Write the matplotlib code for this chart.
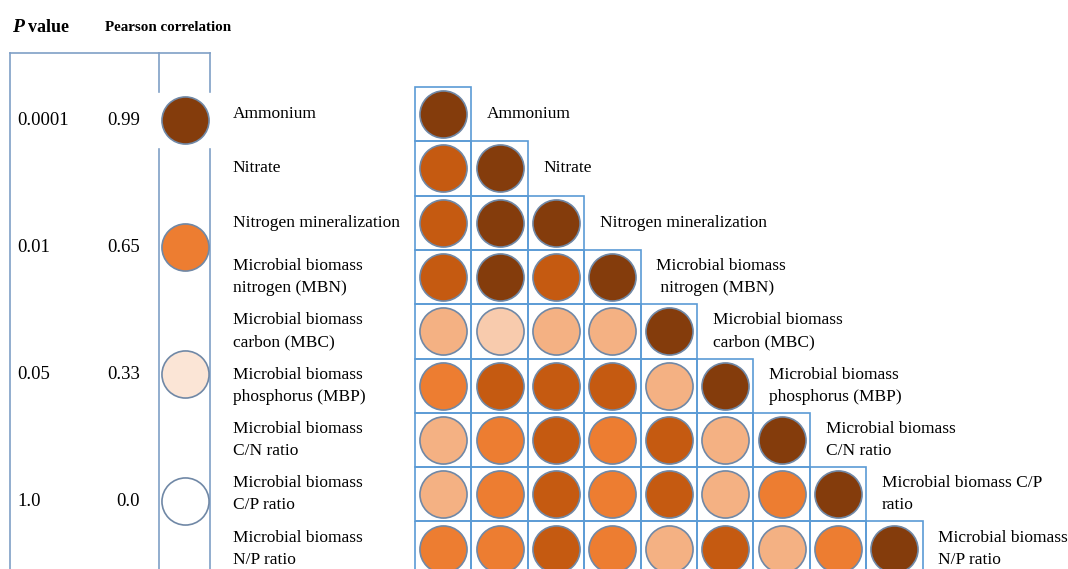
import matplotlib.pyplot as plt
from matplotlib.patches import Rectangle

plt.rcParams['font.family'] = ['Liberation Serif', 'DejaVu Serif']

# variables (rows of the lower-triangle matrix)
variables = ['Ammonium', 'Nitrate', 'Nitrogen mineralization',
             'Microbial biomass\n nitrogen (MBN)', 'Microbial biomass\ncarbon (MBC)',
             'Microbial biomass\nphosphorus (MBP)', 'Microbial biomass\nC/N ratio',
             'Microbial biomass C/P\nratio', 'Microbial biomass\nN/P ratio']
left_names = ['Ammonium', 'Nitrate', 'Nitrogen mineralization',
              'Microbial biomass\nnitrogen (MBN)', 'Microbial biomass\ncarbon (MBC)',
              'Microbial biomass\nphosphorus (MBP)', 'Microbial biomass\nC/N ratio',
              'Microbial biomass\nC/P ratio', 'Microbial biomass\nN/P ratio']

# correlation class of each cell (4 = strongest ... 0 = weakest shown)
corr_class = [
    [4],
    [3, 4],
    [3, 4, 4],
    [3, 4, 3, 4],
    [1, 0, 1, 1, 4],
    [2, 3, 3, 3, 1, 4],
    [1, 2, 3, 2, 3, 1, 4],
    [1, 2, 3, 2, 3, 1, 2, 4],
    [2, 2, 3, 2, 1, 3, 1, 2, 4],
]
class_colors = ['#F8CBAD', '#F4B183', '#ED7D31', '#C55A11', '#843C0C']

# legend
legend_p = ['0.0001', '0.01', '0.05', '1.0']
legend_r = ['0.99', '0.65', '0.33', '0.0']
legend_colors = ['#843C0C', '#ED7D31', '#FBE5D6', '#FFFFFF']

W, H = 1068, 569
fig = plt.figure(figsize=(W / 100, H / 100), dpi=100)

# background axes in pixel units for the legend frame and headers
bg = fig.add_axes([0, 0, 1, 1])
bg.set_xlim(0, W)
bg.set_ylim(H, 0)
bg.axis('off')

frame_c = '#7F9FC6'
bg.plot([10, 210], [53, 53], color=frame_c, lw=1.2)
for xv in [10, 159, 210]:
    bg.plot([xv, xv], [53, H], color=frame_c, lw=1.2)

bg.text(12, 27, 'P', fontsize=14, fontweight='bold', style='italic', va='center')
bg.text(28, 27, 'value', fontsize=13, fontweight='bold', va='center')
bg.text(105, 27, 'Pearson correlation', fontsize=10.8, fontweight='bold', va='center')

slot0, step = 120, 127
for k in range(len(legend_p)):
    yk = slot0 + k * step
    if k == 0:
        bg.add_patch(Rectangle((156, yk - 27), 58, 54, color='white', zorder=3))
    bg.scatter([185], [yk], s=1150, color=legend_colors[k], edgecolors='#7088A6',
               linewidths=1.2, zorder=4)
    bg.text(17, yk, legend_p[k], fontsize=13.5, va='center')
    bg.text(140, yk, legend_r[k], fontsize=13.5, va='center', ha='right')

# matrix axes, one unit per cell
cw, ch = 56.4, 54.3
x0, y0 = 415, 87
n = len(variables)
ax = fig.add_axes([x0 / W, (H - y0 - n * ch) / H, n * cw / W, n * ch / H])
ax.set_xlim(0, n)
ax.set_ylim(n, 0)
ax.axis('off')

for i, row in enumerate(corr_class):
    for j, c in enumerate(row):
        ax.add_patch(Rectangle((j, i), 1, 1, fill=False, edgecolor='#5B9BD5',
                               lw=1.2, clip_on=False, zorder=1))
        ax.scatter([j + 0.5], [i + 0.5], s=1150, color=class_colors[c],
                   edgecolors='#7088A6', linewidths=1.2, zorder=2, clip_on=False)
    ax.text(i + 1.28, i + 0.5, variables[i], fontsize=12.5, va='center',
            linespacing=1.5)
    ax.text(-3.23, i + 0.5, left_names[i], fontsize=12.5, va='center',
            linespacing=1.5)

fig.savefig('out.png', dpi=100)
